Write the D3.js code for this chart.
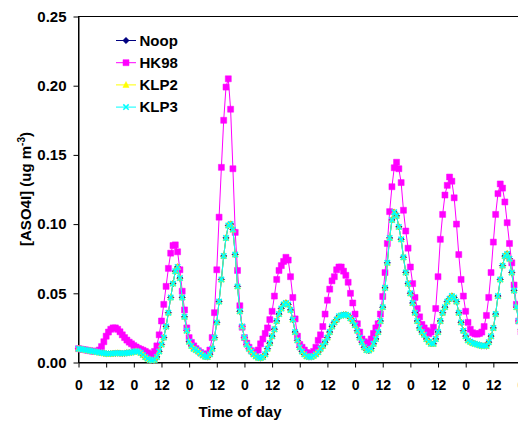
<!DOCTYPE html>
<html>
<head>
<meta charset="utf-8">
<script src="https://cdn.jsdelivr.net/npm/d3@7"></script>
<style>
  body { margin: 0; background: #fff; }
  text { font-family: Arial, "Liberation Sans", sans-serif; font-weight: bold; fill: #000; }
</style>
</head>
<body>
<svg id="chart"></svg>
<script>
// hourly values, hour 0 .. 192
const noop = [
  0.0100, 0.0097, 0.0094, 0.0091, 0.0088, 0.0085, 0.0082, 0.0079, 0.0076, 0.0073, 0.0070, 0.0067,
  0.0064, 0.0063, 0.0064, 0.0066, 0.0067, 0.0068, 0.0067, 0.0066, 0.0067, 0.0069, 0.0071, 0.0073,
  0.0078, 0.0082, 0.0080, 0.0070, 0.0055, 0.0040, 0.0028, 0.0020, 0.0016, 0.0020, 0.0040, 0.0080,
  0.0130, 0.0180, 0.0260, 0.0360, 0.0470, 0.0570, 0.0660, 0.0690, 0.0610, 0.0470, 0.0330, 0.0230,
  0.0150, 0.0120, 0.0100, 0.0090, 0.0080, 0.0065, 0.0052, 0.0042, 0.0040, 0.0060, 0.0100, 0.0180,
  0.0290, 0.0440, 0.0600, 0.0770, 0.0900, 0.0990, 0.1000, 0.0960, 0.0780, 0.0550, 0.0370, 0.0260,
  0.0180, 0.0130, 0.0100, 0.0080, 0.0060, 0.0045, 0.0035, 0.0032, 0.0040, 0.0060, 0.0100, 0.0140,
  0.0190, 0.0240, 0.0300, 0.0350, 0.0390, 0.0420, 0.0430, 0.0420, 0.0380, 0.0310, 0.0220, 0.0160,
  0.0110, 0.0080, 0.0060, 0.0045, 0.0040, 0.0040, 0.0048, 0.0060, 0.0075, 0.0100, 0.0120, 0.0147,
  0.0180, 0.0220, 0.0260, 0.0290, 0.0310, 0.0335, 0.0340, 0.0345, 0.0345, 0.0340, 0.0320, 0.0300,
  0.0270, 0.0230, 0.0180, 0.0147, 0.0110, 0.0090, 0.0087, 0.0100, 0.0135, 0.0170, 0.0220, 0.0300,
  0.0400, 0.0540, 0.0720, 0.0900, 0.1030, 0.1086, 0.1060, 0.0980, 0.0890, 0.0760, 0.0650, 0.0570,
  0.0500, 0.0430, 0.0360, 0.0300, 0.0250, 0.0220, 0.0200, 0.0170, 0.0150, 0.0135, 0.0135, 0.0170,
  0.0220, 0.0300, 0.0360, 0.0400, 0.0440, 0.0460, 0.0480, 0.0470, 0.0440, 0.0360, 0.0290, 0.0230,
  0.0190, 0.0160, 0.0150, 0.0140, 0.0135, 0.0130, 0.0125, 0.0120, 0.0120, 0.0120, 0.0147, 0.0190,
  0.0250, 0.0350, 0.0480, 0.0600, 0.0700, 0.0770, 0.0785, 0.0750, 0.0650, 0.0520, 0.0400, 0.0300,
  0.0240
];

const hk98 = [
  0.0100, 0.0097, 0.0094, 0.0091, 0.0088, 0.0085, 0.0082, 0.0080, 0.0082, 0.0090, 0.0115, 0.0150,
  0.0190, 0.0220, 0.0240, 0.0250, 0.0250, 0.0240, 0.0222, 0.0200, 0.0180, 0.0162, 0.0147, 0.0135,
  0.0122, 0.0112, 0.0102, 0.0095, 0.0088, 0.0080, 0.0070, 0.0060, 0.0058, 0.0080, 0.0120, 0.0200,
  0.0300, 0.0420, 0.0550, 0.0680, 0.0790, 0.0845, 0.0850, 0.0800, 0.0670, 0.0515, 0.0380, 0.0250,
  0.0180, 0.0145, 0.0120, 0.0100, 0.0085, 0.0072, 0.0062, 0.0058, 0.0062, 0.0090, 0.0180, 0.0360,
  0.0670, 0.1050, 0.1410, 0.1750, 0.1990, 0.2050, 0.1830, 0.1400, 0.0940, 0.0665, 0.0410, 0.0255,
  0.0180, 0.0140, 0.0110, 0.0085, 0.0072, 0.0070, 0.0090, 0.0135, 0.0170, 0.0210, 0.0250, 0.0310,
  0.0370, 0.0480, 0.0600, 0.0665, 0.0700, 0.0730, 0.0760, 0.0740, 0.0620, 0.0470, 0.0315, 0.0190,
  0.0130, 0.0110, 0.0090, 0.0072, 0.0063, 0.0065, 0.0080, 0.0110, 0.0160, 0.0200, 0.0260, 0.0350,
  0.0450, 0.0530, 0.0590, 0.0620, 0.0670, 0.0690, 0.0690, 0.0660, 0.0630, 0.0580, 0.0500, 0.0430,
  0.0350, 0.0280, 0.0220, 0.0170, 0.0150, 0.0140, 0.0140, 0.0170, 0.0210, 0.0250, 0.0280, 0.0350,
  0.0477, 0.0650, 0.0860, 0.1090, 0.1270, 0.1407, 0.1447, 0.1400, 0.1300, 0.1100, 0.0950, 0.0826,
  0.0690, 0.0570, 0.0470, 0.0390, 0.0330, 0.0275, 0.0250, 0.0230, 0.0207, 0.0220, 0.0255, 0.0390,
  0.0620, 0.0890, 0.1070, 0.1210, 0.1280, 0.1340, 0.1310, 0.1190, 0.1000, 0.0780, 0.0600, 0.0480,
  0.0370, 0.0290, 0.0240, 0.0215, 0.0207, 0.0205, 0.0210, 0.0220, 0.0260, 0.0340, 0.0470, 0.0650,
  0.0870, 0.1070, 0.1220, 0.1290, 0.1260, 0.1160, 0.1010, 0.0860, 0.0720, 0.0560, 0.0420, 0.0300,
  0.0220
];

const klp2 = [
  0.0100, 0.0097, 0.0094, 0.0091, 0.0088, 0.0085, 0.0082, 0.0079, 0.0076, 0.0073, 0.0070, 0.0067,
  0.0064, 0.0063, 0.0064, 0.0066, 0.0067, 0.0068, 0.0067, 0.0066, 0.0067, 0.0069, 0.0071, 0.0073,
  0.0078, 0.0082, 0.0080, 0.0070, 0.0055, 0.0040, 0.0028, 0.0020, 0.0016, 0.0020, 0.0040, 0.0080,
  0.0130, 0.0180, 0.0260, 0.0360, 0.0470, 0.0570, 0.0660, 0.0690, 0.0610, 0.0470, 0.0330, 0.0230,
  0.0150, 0.0120, 0.0100, 0.0090, 0.0080, 0.0065, 0.0052, 0.0042, 0.0040, 0.0060, 0.0100, 0.0180,
  0.0290, 0.0440, 0.0600, 0.0770, 0.0900, 0.0990, 0.1000, 0.0960, 0.0780, 0.0550, 0.0370, 0.0260,
  0.0180, 0.0130, 0.0100, 0.0080, 0.0060, 0.0045, 0.0035, 0.0032, 0.0040, 0.0060, 0.0100, 0.0140,
  0.0190, 0.0240, 0.0300, 0.0350, 0.0390, 0.0420, 0.0430, 0.0420, 0.0380, 0.0310, 0.0220, 0.0160,
  0.0110, 0.0080, 0.0060, 0.0045, 0.0040, 0.0040, 0.0048, 0.0060, 0.0075, 0.0100, 0.0120, 0.0147,
  0.0180, 0.0220, 0.0260, 0.0290, 0.0310, 0.0335, 0.0340, 0.0345, 0.0345, 0.0340, 0.0320, 0.0300,
  0.0270, 0.0230, 0.0180, 0.0147, 0.0110, 0.0090, 0.0087, 0.0100, 0.0135, 0.0170, 0.0220, 0.0300,
  0.0400, 0.0540, 0.0720, 0.0900, 0.1030, 0.1086, 0.1060, 0.0980, 0.0890, 0.0760, 0.0650, 0.0570,
  0.0500, 0.0430, 0.0360, 0.0300, 0.0250, 0.0220, 0.0200, 0.0170, 0.0150, 0.0135, 0.0135, 0.0170,
  0.0220, 0.0300, 0.0360, 0.0400, 0.0440, 0.0460, 0.0480, 0.0470, 0.0440, 0.0360, 0.0290, 0.0230,
  0.0190, 0.0160, 0.0150, 0.0140, 0.0135, 0.0130, 0.0125, 0.0120, 0.0120, 0.0120, 0.0147, 0.0190,
  0.0250, 0.0350, 0.0480, 0.0600, 0.0700, 0.0770, 0.0785, 0.0750, 0.0650, 0.0520, 0.0400, 0.0300,
  0.0240
];

const klp3 = [
  0.0100, 0.0097, 0.0094, 0.0091, 0.0088, 0.0085, 0.0082, 0.0079, 0.0076, 0.0073, 0.0070, 0.0067,
  0.0064, 0.0063, 0.0064, 0.0066, 0.0067, 0.0068, 0.0067, 0.0066, 0.0067, 0.0069, 0.0071, 0.0073,
  0.0078, 0.0082, 0.0080, 0.0070, 0.0055, 0.0040, 0.0028, 0.0020, 0.0016, 0.0020, 0.0040, 0.0080,
  0.0130, 0.0180, 0.0260, 0.0360, 0.0470, 0.0570, 0.0660, 0.0690, 0.0610, 0.0470, 0.0330, 0.0230,
  0.0150, 0.0120, 0.0100, 0.0090, 0.0080, 0.0065, 0.0052, 0.0042, 0.0040, 0.0060, 0.0100, 0.0180,
  0.0290, 0.0440, 0.0600, 0.0770, 0.0900, 0.0990, 0.1000, 0.0960, 0.0780, 0.0550, 0.0370, 0.0260,
  0.0180, 0.0130, 0.0100, 0.0080, 0.0060, 0.0045, 0.0035, 0.0032, 0.0040, 0.0060, 0.0100, 0.0140,
  0.0190, 0.0240, 0.0300, 0.0350, 0.0390, 0.0420, 0.0430, 0.0420, 0.0380, 0.0310, 0.0220, 0.0160,
  0.0110, 0.0080, 0.0060, 0.0045, 0.0040, 0.0040, 0.0048, 0.0060, 0.0075, 0.0100, 0.0120, 0.0147,
  0.0180, 0.0220, 0.0260, 0.0290, 0.0310, 0.0335, 0.0340, 0.0345, 0.0345, 0.0340, 0.0320, 0.0300,
  0.0270, 0.0230, 0.0180, 0.0147, 0.0110, 0.0090, 0.0087, 0.0100, 0.0135, 0.0170, 0.0220, 0.0300,
  0.0400, 0.0540, 0.0720, 0.0900, 0.1030, 0.1086, 0.1060, 0.0980, 0.0890, 0.0760, 0.0650, 0.0570,
  0.0500, 0.0430, 0.0360, 0.0300, 0.0250, 0.0220, 0.0200, 0.0170, 0.0150, 0.0135, 0.0135, 0.0170,
  0.0220, 0.0300, 0.0360, 0.0400, 0.0440, 0.0460, 0.0480, 0.0470, 0.0440, 0.0360, 0.0290, 0.0230,
  0.0190, 0.0160, 0.0150, 0.0140, 0.0135, 0.0130, 0.0125, 0.0120, 0.0120, 0.0120, 0.0147, 0.0190,
  0.0250, 0.0350, 0.0480, 0.0600, 0.0700, 0.0770, 0.0785, 0.0750, 0.0650, 0.0520, 0.0400, 0.0300,
  0.0240
];

const seriesNames = ["Noop", "HK98", "KLP2", "KLP3"];
const xTickHours = [0, 12, 24, 36, 48, 60, 72, 84, 96, 108, 120, 132, 144, 156, 168, 180, 192];
const xTickLabels = ["0", "12", "0", "12", "0", "12", "0", "12", "0", "12", "0", "12", "0", "12", "0", "12", "0"];
const yTicks = [0, 0.05, 0.10, 0.15, 0.20, 0.25];

const W = 518, H = 423;
const plotLeft = 78.5, plotTop = 16.5, plotBottom = 362.5, plotRight = 521;

const svg = d3.select("#chart").attr("width", W).attr("height", H);

const x = d3.scaleLinear().domain([0, 192]).range([plotLeft, plotRight]);
const y = d3.scaleLinear().domain([0, 0.25]).range([plotBottom, plotTop]);

// plot frame
svg.append("rect")
  .attr("x", plotLeft).attr("y", plotTop)
  .attr("width", plotRight - plotLeft).attr("height", plotBottom - plotTop)
  .attr("fill", "#fff").attr("stroke", "#000").attr("stroke-width", 1);

// axes
const yAxis = d3.axisLeft(y).tickValues(yTicks).tickFormat(d3.format(".2f"))
  .tickSize(5).tickSizeOuter(0).tickPadding(7);
const gy = svg.append("g").attr("transform", `translate(${plotLeft},0)`).call(yAxis);
gy.selectAll("text").style("font-size", "15px");

const xAxis = d3.axisBottom(x).tickValues(xTickHours).tickFormat((d, i) => xTickLabels[i])
  .tickSize(5).tickSizeOuter(0).tickPadding(13);
const gx = svg.append("g").attr("transform", `translate(0,${plotBottom})`).call(xAxis);
gx.selectAll("text").style("font-size", "14px");

svg.selectAll(".domain, .tick line").attr("stroke", "#000");

// markers
const markers = {
  Noop: { color: "#000080", path: "M0,-3.2L3.2,0L0,3.2L-3.2,0Z", fill: true },
  HK98: { color: "#ff00ff", path: "M-3,-3h6v6h-6Z", fill: true },
  KLP2: { color: "#ffff00", path: "M0,-3.4L3.1,2.5L-3.1,2.5Z", fill: true },
  KLP3: { color: "#00ffff", path: "M-2.7,-2.7L2.7,2.7M2.7,-2.7L-2.7,2.7", fill: false }
};

const line = d3.line().x((d, i) => x(i)).y(d => y(d));
const allSeries = [noop, hk98, klp2, klp3];

allSeries.forEach((vals, k) => {
  const m = markers[seriesNames[k]];
  const g = svg.append("g");
  g.append("path").datum(vals)
    .attr("d", line).attr("fill", "none")
    .attr("stroke", m.color).attr("stroke-width", 1);
  g.selectAll("path.mk").data(vals).enter().append("path")
    .attr("class", "mk")
    .attr("transform", (d, i) => `translate(${x(i)},${y(d)})`)
    .attr("d", m.path)
    .attr("fill", m.fill ? m.color : "none")
    .attr("stroke", m.color)
    .attr("stroke-width", m.fill ? 0.5 : 1.5);
});

// legend
const legend = svg.append("g");
seriesNames.forEach((name, k) => {
  const m = markers[name];
  const ly = 40.5 + k * 22.2;
  legend.append("line").attr("x1", 116).attr("x2", 136).attr("y1", ly).attr("y2", ly)
    .attr("stroke", m.color).attr("stroke-width", 1);
  legend.append("path").attr("transform", `translate(126,${ly})`).attr("d", m.path)
    .attr("fill", m.fill ? m.color : "none").attr("stroke", m.color)
    .attr("stroke-width", m.fill ? 0.5 : 1.5);
  legend.append("text").attr("x", 139.5).attr("y", ly + 5.3)
    .style("font-size", "15px").text(name);
});

// axis titles
svg.append("text").attr("x", 240).attr("y", 417).attr("text-anchor", "middle")
  .style("font-size", "15px").text("Time of day");

const yt = svg.append("text").attr("transform", "translate(31,189) rotate(-90)")
  .attr("text-anchor", "middle").style("font-size", "15px");
yt.append("tspan").text("[ASO4I] (ug m");
yt.append("tspan").attr("dy", -6).style("font-size", "10px").text("-3");
yt.append("tspan").attr("dy", 6).text(")");
</script>
</body>
</html>
